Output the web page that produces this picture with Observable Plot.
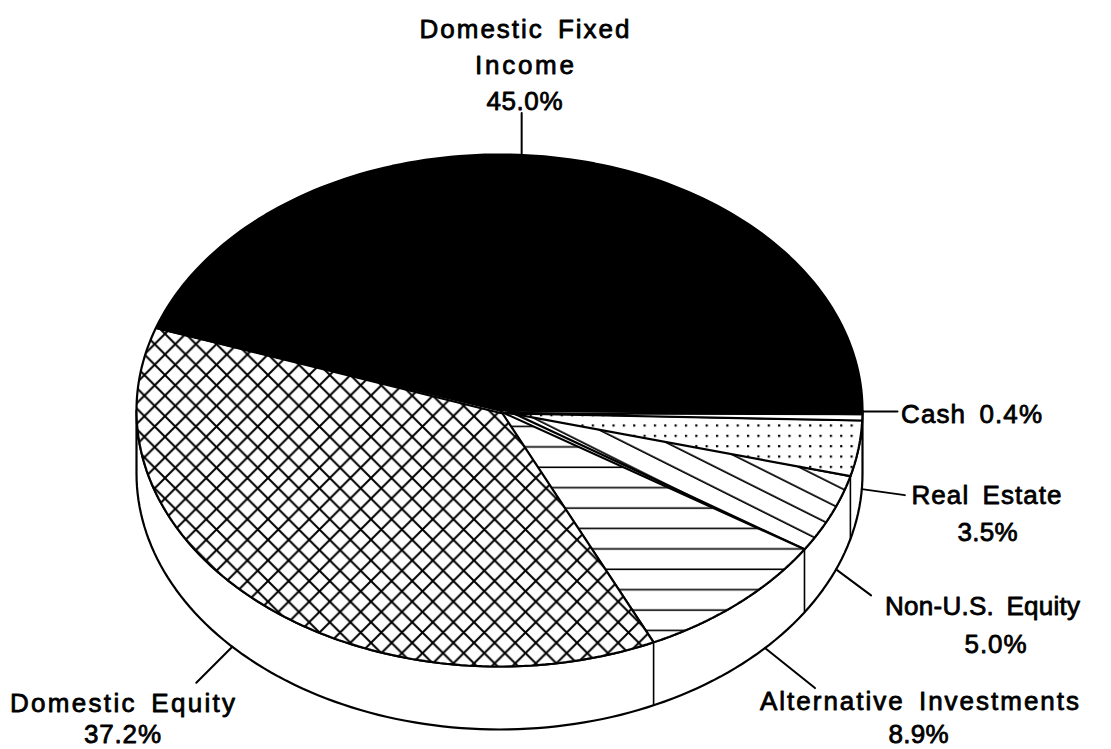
<!DOCTYPE html>
<html>
<head>
<meta charset="utf-8">
<script src="https://cdn.jsdelivr.net/npm/d3@7"></script>
<script src="https://cdn.jsdelivr.net/npm/@observablehq/plot@0.6"></script>
<style>
html,body{margin:0;padding:0;background:#fff}
svg{display:block}
</style>
</head>
<body>
<div id="chart"></div>
<script>
// Data, in clockwise drawing order starting at the 3 o'clock position
const categories = ["Cash", "Real Estate", "Non-U.S. Equity", "Alternative Investments", "Domestic Equity", "Domestic Fixed Income"];
const shares = [0.4, 3.5, 5.0, 8.9, 37.2, 45.0];

// Layout of the oblique pie (chart units = pixels)
const cx = 499, cy = 410, rx = 363, ry = 256, depth = 63, startAngle = 0.8;
const fills = ["#fff", "url(#dots)", "url(#diag)", "url(#hstripes)", "url(#cross)", "#000"];
const apexShift = [[8, 3], [6, 2], [8, 0], [1, 1], [3, 3], [0, 0]];

// Leader lines: rim angle, whether it starts from the lower rim, and its run
const leaders = [
  {angle: 0.2, lower: false, dx: 35, dy: 0},
  {angle: 3.5, lower: true, dx: 43, dy: 6},
  {angle: 22, lower: true, dx: 35, dy: 26},
  {angle: 43, lower: true, dx: 50, dy: 40},
  {angle: 137.4, lower: true, dx: -36, dy: 36},
  {angle: -86.5, lower: false, dx: 0, dy: -42}
];

// Label text rows, with the width each row spans
const labelRows = [
  {text: "Domestic Fixed", x: 524, y: 29, span: 210},
  {text: "Income", x: 524, y: 65, span: 99},
  {text: "45.0%", x: 524, y: 101, span: 76},
  {text: "Cash 0.4%", x: 971, y: 414, span: 141},
  {text: "Real Estate", x: 986, y: 495, span: 150},
  {text: "3.5%", x: 987, y: 532, span: 60},
  {text: "Non-U.S. Equity", x: 982, y: 606, span: 195},
  {text: "5.0%", x: 995, y: 644, span: 62},
  {text: "Alternative Investments", x: 919, y: 701, span: 319},
  {text: "8.9%", x: 918, y: 734, span: 60},
  {text: "Domestic Equity", x: 122, y: 703, span: 225},
  {text: "37.2%", x: 122, y: 734, span: 77}
];

const rad = d => d * Math.PI / 180;
const rim = (deg, lower = false) => ({
  x: cx + rx * Math.cos(rad(deg)),
  y: cy + (lower ? depth : 0) + ry * Math.sin(rad(deg))
});
const arc = (a0, a1, lower = false) => d3.range(0, 121).map(i => rim(a0 + (a1 - a0) * i / 120, lower));

// Slice boundaries follow from the shares
const bounds = [startAngle];
shares.forEach(s => bounds.push(bounds[bounds.length - 1] + s * 3.6));

const slices = shares.map((s, i) => [
  {x: cx + apexShift[i][0], y: cy + apexShift[i][1]},
  ...arc(bounds[i], bounds[i + 1]),
  {x: cx + apexShift[i][0], y: cy + apexShift[i][1]}
]);

const wall = [...arc(0, 180), ...arc(180, 0, true), rim(0)];
const dividers = bounds.slice(2, 5).map(a => [rim(a), rim(a, true)]);
const leaderLines = leaders.map(l => {
  const p = rim(l.angle, l.lower);
  return [p, {x: p.x + l.dx, y: p.y + l.dy}];
});

const sliceOrder = [2, 3, 1, 0, 4, 5];

const chart = Plot.plot({
  width: 1111,
  height: 749,
  margin: 0,
  x: {domain: [0, 1111], range: [0, 1111], axis: null},
  y: {domain: [0, 749], range: [0, 749], axis: null},
  style: {fontFamily: "'Liberation Sans', Arial, sans-serif", background: "#fff", color: "#000"},
  marks: [
    Plot.line(wall, {x: "x", y: "y", fill: "#fff", stroke: "#000", strokeWidth: 2.2, curve: "linear"}),
    ...dividers.map(d => Plot.line(d, {x: "x", y: "y", stroke: "#000", strokeWidth: 1.6})),
    ...sliceOrder.map(i => Plot.line(slices[i], {
      x: "x", y: "y", fill: fills[i], stroke: "#000",
      strokeWidth: 2.2, strokeLinejoin: "miter", curve: "linear"
    })),
    ...leaderLines.map(l => Plot.line(l, {x: "x", y: "y", stroke: "#000", strokeWidth: 2})),
    Plot.text(labelRows, {
      x: "x", y: "y", text: "text", fontSize: 26, fontWeight: 400,
      fill: "#000", stroke: "#000", strokeWidth: 0.8, textAnchor: "middle", lineAnchor: "middle"
    })
  ]
});

d3.select(chart).selectAll("text")
  .style("word-spacing", "5px")
  .attr("lengthAdjust", "spacing")
  .attr("textLength", function () {
    const row = labelRows.find(r => r.text === this.textContent);
    return row ? row.span : null;
  });

// Hatch patterns used as slice fills
const defs = d3.select(chart).insert("defs", ":first-child");
const dots = defs.append("pattern").attr("id", "dots").attr("patternUnits", "userSpaceOnUse")
  .attr("width", 10.35).attr("height", 10.35).attr("x", -2.45).attr("y", -4.2);
dots.append("rect").attr("width", 10.35).attr("height", 10.35).attr("fill", "#fff");
dots.append("rect").attr("x", 3.75).attr("y", 3.75).attr("width", 2.2).attr("height", 2.2).attr("fill", "#000");

const hs = defs.append("pattern").attr("id", "hstripes").attr("patternUnits", "userSpaceOnUse")
  .attr("width", 20).attr("height", 20.4).attr("y", 8);
hs.append("rect").attr("width", 20).attr("height", 20.4).attr("fill", "#fff");
hs.append("line").attr("x1", 0).attr("x2", 20).attr("y1", 10).attr("y2", 10).attr("stroke", "#000").attr("stroke-width", 1.6);

const dg = defs.append("pattern").attr("id", "diag").attr("patternUnits", "userSpaceOnUse")
  .attr("width", 40).attr("height", 18.7).attr("patternTransform", "translate(620 430) rotate(26.57)");
dg.append("rect").attr("width", 40).attr("height", 18.7).attr("fill", "#fff");
dg.append("line").attr("x1", 0).attr("x2", 40).attr("y1", 9).attr("y2", 9).attr("stroke", "#000").attr("stroke-width", 1.6);

const cr = defs.append("pattern").attr("id", "cross").attr("patternUnits", "userSpaceOnUse")
  .attr("width", 20.6).attr("height", 20.6).attr("x", -0.3).attr("y", 3.7);
cr.append("rect").attr("width", 20.6).attr("height", 20.6).attr("fill", "#fff");
cr.append("path").attr("d", "M-1,-1L21.6,21.6M-1,21.6L21.6,-1").attr("stroke", "#000").attr("stroke-width", 2);

document.getElementById("chart").appendChild(chart);
</script>
</body>
</html>
